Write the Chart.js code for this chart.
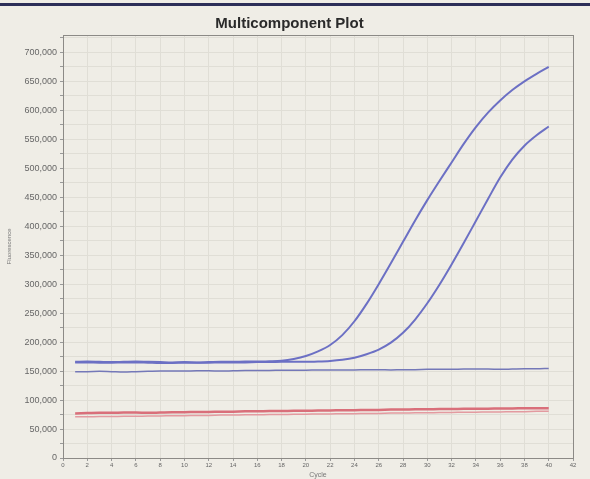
<!DOCTYPE html>
<html lang="en">
<head>
    <meta charset="UTF-8">
    <title>Multicomponent Plot</title>
    <style>
        html, body {
            margin: 0;
            padding: 0;
            background-color: #f6f5f0;
        }
        #wrap {
            position: absolute;
            left: 0;
            top: 0;
            width: 590px;
            height: 479px;
            background-color: #efede6;
        }
        #topline {
            position: absolute;
            left: 0;
            top: 3px;
            width: 590px;
            height: 3px;
            background-color: #2c2e58;
        }
        canvas {
            position: absolute;
            left: 0;
            top: 0;
        }
    </style>
    <script src="https://cdn.jsdelivr.net/npm/chart.js"></script>
</head>
<body>
    <div id="wrap">
        <canvas id="chart" width="590" height="479"></canvas>
        <div id="topline"></div>
    </div>

    <script>
        const cycles = [1, 2, 3, 4, 5, 6, 7, 8, 9, 10, 11, 12, 13, 14, 15, 16, 17, 18, 19, 20,
            21, 22, 23, 24, 25, 26, 27, 28, 29, 30, 31, 32, 33, 34, 35, 36, 37, 38, 39, 40];

        const ampHigh = [166000, 166500, 166000, 165500, 166000, 166500, 166000, 165500, 165000, 165500,
            165000, 165500, 166000, 166000, 166500, 166500, 167000, 168000, 171000, 176000,
            184000, 195000, 212000, 236000, 266000, 300000, 336000, 373000, 410000, 445000,
            478000, 510000, 542000, 571000, 596000, 617000, 635000, 650000, 663000, 675000];

        const ampLow = [165000, 165000, 164500, 164500, 165000, 165000, 164500, 164000, 164000, 164500,
            164500, 164500, 165000, 165000, 165000, 165500, 165500, 166000, 166000, 166000,
            166500, 167500, 169500, 173000, 179000, 187000, 199000, 216000, 239000, 267000,
            299000, 334000, 371000, 409000, 447000, 484000, 515000, 539000, 557000, 572000];

        const flatBlue = [149000, 149000, 149500, 149000, 148500, 149000, 149500, 150000, 150000, 150000,
            150500, 150500, 150000, 150500, 151000, 151000, 151000, 151500, 151500, 151500,
            152000, 152000, 152000, 152000, 152500, 152500, 152000, 152500, 152500, 153000,
            153000, 153000, 153500, 153500, 153500, 153000, 153500, 154000, 154000, 154500];

        const redHigh = [77000, 77500, 78000, 78000, 78500, 78500, 78000, 78500, 79000, 79000,
            79500, 79500, 80000, 80000, 80500, 80500, 81000, 81000, 81500, 81500,
            82000, 82000, 82500, 82500, 83000, 83000, 83500, 83500, 84000, 84000,
            84500, 84500, 85000, 85000, 85000, 85500, 85500, 86000, 86000, 86000];

        const redLow = [71000, 71000, 71500, 71500, 72000, 72000, 72500, 72500, 73000, 73000,
            73500, 73500, 74000, 74000, 74500, 74500, 75000, 75000, 75500, 75500,
            76000, 76000, 76500, 76500, 77000, 77000, 77500, 77500, 78000, 78000,
            78500, 78500, 79000, 79000, 79500, 79500, 80000, 80000, 80500, 80500];

        const yTicks = [0, 50000, 100000, 150000, 200000, 250000, 300000, 350000,
            400000, 450000, 500000, 550000, 600000, 650000, 700000];
        const xTicks = [0, 2, 4, 6, 8, 10, 12, 14, 16, 18, 20, 22, 24, 26, 28, 30, 32, 34, 36, 38, 40, 42];

        function pts(values) {
            return values.map((v, i) => ({ x: cycles[i], y: v }));
        }

        const blue = '#6c70c4';
        const red = '#d96f7a';

        const frame = {
            id: 'frame',
            afterDraw(chart) {
                const a = chart.chartArea;
                const ctx = chart.ctx;
                ctx.save();
                ctx.strokeStyle = '#8c8a86';
                ctx.lineWidth = 1;
                ctx.strokeRect(a.left + 0.5, a.top + 0.5, a.right - a.left, a.bottom - a.top);
                ctx.restore();
            }
        };

        const ctx = document.getElementById('chart').getContext('2d');
        new Chart(ctx, {
            type: 'line',
            data: {
                datasets: [
                    { data: pts(redLow), borderColor: '#e39aa0', borderWidth: 1.5 },
                    { data: pts(redHigh), borderColor: red, borderWidth: 2.5 },
                    { data: pts(flatBlue), borderColor: '#7478b8', borderWidth: 1.5 },
                    { data: pts(ampLow), borderColor: blue, borderWidth: 2 },
                    { data: pts(ampHigh), borderColor: blue, borderWidth: 2 }
                ]
            },
            options: {
                responsive: false,
                animation: false,
                elements: {
                    point: { radius: 0 },
                    line: { cubicInterpolationMode: 'monotone', fill: false }
                },
                layout: {
                    padding: { left: 6, right: 17, top: 0, bottom: 0 }
                },
                plugins: {
                    legend: { display: false },
                    tooltip: { enabled: false },
                    title: {
                        display: true,
                        text: 'Multicomponent Plot',
                        color: '#2a2a2a',
                        font: { family: 'Liberation Sans, Arial, sans-serif', size: 15, weight: 'bold' },
                        padding: { top: 15, bottom: 2 }
                    }
                },
                scales: {
                    x: {
                        type: 'linear',
                        min: 0,
                        max: 42,
                        afterBuildTicks: s => { s.ticks = xTicks.map(v => ({ value: v })); },
                        afterFit: s => { s.height = 21; },
                        ticks: {
                            color: '#666',
                            font: { family: 'Liberation Sans, Arial, sans-serif', size: 6 },
                            padding: 1,
                            maxRotation: 0,
                            autoSkip: false
                        },
                        grid: { color: '#e0ded6', tickLength: 3, tickColor: '#999' },
                        border: { color: '#8c8a86' },
                        title: {
                            display: true,
                            text: 'Cycle',
                            color: '#777',
                            font: { family: 'Liberation Sans, Arial, sans-serif', size: 7 },
                            padding: 0
                        }
                    },
                    y: {
                        min: 0,
                        max: 730000,
                        afterBuildTicks: s => {
                            const t = [];
                            yTicks.forEach(v => { t.push({ value: v }); t.push({ value: v + 25000 }); });
                            s.ticks = t;
                        },
                        afterFit: s => { s.width = 57; },
                        ticks: {
                            color: '#666',
                            font: { family: 'Liberation Sans, Arial, sans-serif', size: 9 },
                            padding: 3,
                            autoSkip: false,
                            callback: v => (v % 50000 === 0 ? v.toLocaleString('en-US') : '')
                        },
                        grid: { color: '#e0ded6', tickLength: 3, tickColor: '#999' },
                        border: { color: '#8c8a86' },
                        title: {
                            display: true,
                            text: 'Fluorescence',
                            color: '#777',
                            font: { family: 'Liberation Sans, Arial, sans-serif', size: 6 },
                            padding: 0
                        }
                    }
                }
            },
            plugins: [frame]
        });
    </script>
</body>
</html>
